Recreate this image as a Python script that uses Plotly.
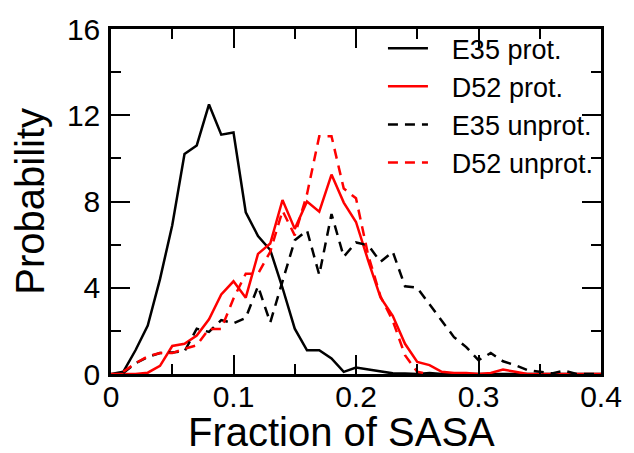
import plotly.graph_objects as go

# Bin centres (Fraction of SASA)
x_bins = [0.00, 0.01, 0.02, 0.03, 0.04, 0.05, 0.06, 0.07, 0.08, 0.09,
          0.10, 0.11, 0.12, 0.13, 0.14, 0.15, 0.16, 0.17, 0.18, 0.19,
          0.20, 0.21, 0.22, 0.23, 0.24, 0.25, 0.26, 0.27, 0.28, 0.29,
          0.30, 0.31, 0.32, 0.33, 0.34, 0.35, 0.36, 0.37, 0.38, 0.39, 0.40]

e35_prot = [0.0, 0.1, 1.1, 2.25, 4.4, 6.9, 10.2, 10.6, 12.5, 11.1,
            11.2, 7.5, 6.4, 5.75, 4.0, 2.1, 1.1, 1.1, 0.72, 0.1,
            0.3, 0.2, 0.1, 0.03, 0.02, 0.0, 0.05, 0.0, 0.0, 0.0,
            0.0, 0.0, 0.0, 0.0, 0.0, 0.0, 0.0, 0.0, 0.0, 0.0, 0.0]

d52_prot = [0.0, 0.0, 0.0, 0.06, 0.38, 1.3, 1.4, 1.78, 2.54, 3.69,
            4.3, 3.54, 5.57, 6.05, 8.07, 6.73, 8.0, 7.53, 9.25, 7.95,
            7.05, 5.25, 3.55, 2.7, 1.4, 0.56, 0.41, 0.1, 0.05, 0.05,
            0.0, 0.05, 0.21, 0.1, 0.0, 0.0, 0.0, 0.0, 0.0, 0.0, 0.0]

e35_unprot = [None, 0.05, 0.5, 0.79, 0.97, 1.0, 1.05, 2.1, 1.95, 2.5,
              2.35, 2.6, 4.07, 2.39, 4.3, 6.2, 6.66, 4.6, 7.42, 5.44,
              6.1, 5.97, 5.2, 5.67, 4.07, 4.0, 3.23, 2.47, 1.71, 1.25,
              0.64, 0.97, 0.59, 0.41, 0.18, 0.1, 0.03, 0.15, 0.0, 0.0, 0.0]

d52_unprot = [None, 0.1, 0.5, 0.82, 0.97, 0.97, 1.17, 1.33, 2.09, 2.09,
              3.5, 4.65, 4.65, 5.67, 7.57, 6.43, 8.34, 11.03, 11.03, 8.6,
              8.15, 5.5, 3.6, 2.47, 0.87, 0.1, 0.0, None, None, None,
              None, None, None, None, None, None, None, None, None, None, None]

series_names = ["E35 prot.", "D52 prot.", "E35 unprot.", "D52 unprot."]
series_values = [e35_prot, d52_prot, e35_unprot, d52_unprot]
series_colors = ["black", "red", "black", "red"]
series_dash = ["solid", "solid", "10px,7px", "10px,7px"]

x_tickvals = [0, 0.1, 0.2, 0.3, 0.4]
x_ticktext = ["0", "0.1", "0.2", "0.3", "0.4"]

FONT = "Liberation Sans, Arial, sans-serif"
LEGEND_GAP = "\u2002\u2009"  # extra gap between legend line sample and text

fig = go.Figure()
for name, vals, color, dash in zip(series_names, series_values,
                                   series_colors, series_dash):
    fig.add_trace(go.Scatter(
        x=x_bins, y=vals, name=LEGEND_GAP + name, mode="lines",
        line=dict(color=color, width=2.5, dash=dash),
        connectgaps=False,
    ))

axis_common = dict(
    showline=True, linewidth=2.5, linecolor="black", mirror="allticks",
    ticks="inside", ticklen=19, tickwidth=2, tickcolor="black",
    showgrid=False, zeroline=False,
    tickfont=dict(family=FONT, size=30, color="black"),
)

fig.update_xaxes(range=[0, 0.4],
                 tickvals=x_tickvals, ticktext=x_ticktext,
                 minor=dict(ticks="inside", ticklen=10, tickwidth=2,
                            tickcolor="black", dtick=0.05, tick0=0),
                 ticklabelstandoff=-6,
                 **axis_common)
fig.update_yaxes(range=[0, 16], dtick=4, tick0=0,
                 minor=dict(ticks="inside", ticklen=10, tickwidth=2,
                            tickcolor="black", dtick=2, tick0=0),
                 ticklabelstandoff=2,
                 **axis_common)

fig.update_layout(
    width=634, height=453,
    margin=dict(l=111, r=26, t=25, b=79),
    paper_bgcolor="white", plot_bgcolor="white",
    showlegend=True,
    legend=dict(
        x=0.555, y=1.014, xanchor="left", yanchor="top",
        bgcolor="rgba(0,0,0,0)", borderwidth=0,
        font=dict(family=FONT, size=27, color="black"),
        itemwidth=40, tracegroupgap=0,
    ),
    annotations=[
        dict(text="Probability", xref="paper", yref="paper",
             x=-0.167, y=0.5, xanchor="center", yanchor="middle",
             textangle=-90, showarrow=False,
             font=dict(family=FONT, size=40, color="black")),
        dict(text="Fraction of SASA", xref="paper", yref="paper",
             x=0.47, y=-0.169, xanchor="center", yanchor="middle",
             showarrow=False,
             font=dict(family=FONT, size=40, color="black")),
    ],
)

fig.write_html("out.html")
